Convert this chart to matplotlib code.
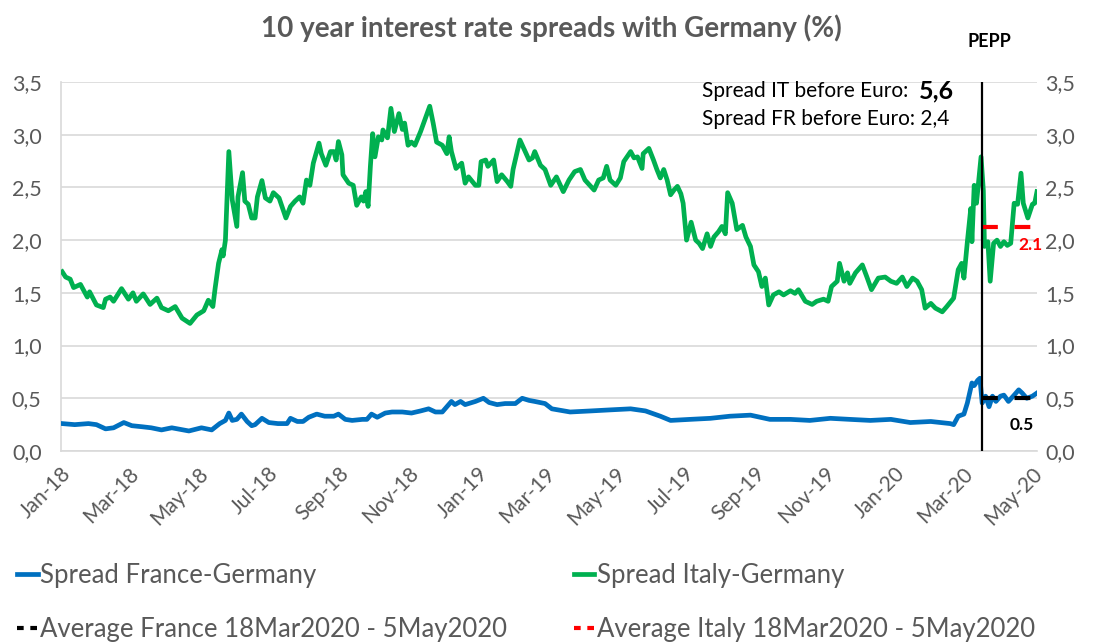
import numpy as np
import pandas as pd
import matplotlib
matplotlib.use('Agg')
import matplotlib.pyplot as plt
import matplotlib.dates as mdates
from matplotlib.lines import Line2D

plt.rcParams['font.family'] = ['Lato', 'DejaVu Sans']

# data: days since 1 Jan 2018 and spread in %
start = pd.Timestamp('2018-01-01')

it_days = [1, 4, 8, 11, 17, 23, 25, 31, 37, 39, 43, 46, 53, 59, 63, 66, 72, 78, 84, 88,
           94, 100, 106, 113, 119, 125, 129, 133, 135, 138, 141, 142, 144, 147, 150, 154, 155, 159, 161, 164,
           167, 170, 172, 176, 179, 183, 186, 191, 197, 201, 205, 209, 212, 215, 218, 221, 226, 228, 232, 236,
           239, 241, 243, 246, 247, 252, 256, 259, 263, 265, 267, 269, 271, 273, 275, 278, 281, 282, 286, 289,
           292, 296, 299, 301, 304, 307, 310, 315, 318, 323, 326, 329, 334, 338, 340, 342, 346, 351, 354, 357,
           363, 366, 368, 372, 374, 379, 382, 386, 391, 394, 396, 402, 410, 413, 415, 420, 424, 429, 434, 440,
           445, 450, 455, 459, 467, 471, 475, 478, 481, 486, 490, 493, 499, 502, 505, 509, 510, 515, 519, 522,
           525, 528, 531, 534, 537, 540, 543, 545, 548, 552, 556, 559, 562, 566, 569, 572, 576, 579, 582, 584,
           588, 592, 597, 600, 604, 607, 611, 614, 617, 620, 624, 629, 633, 639, 643, 646, 652, 658, 662, 668,
           672, 675, 680, 682, 686, 689, 691, 696, 702, 706, 710, 716, 722, 727, 732, 737, 741, 746, 750, 754,
           757, 762, 766, 772, 776, 782, 786, 789, 791, 794, 797, 798, 800, 802, 806, 808, 809, 812, 814, 817,
           820, 823, 826, 829, 832, 835, 838, 841, 843, 847, 851, 853, 855]
it_vals = [1.70, 1.65, 1.63, 1.55, 1.58, 1.46, 1.51, 1.385, 1.36, 1.44, 1.46, 1.42, 1.54, 1.44, 1.50, 1.42, 1.49, 1.39, 1.45, 1.36,
           1.33, 1.37, 1.26, 1.21, 1.29, 1.33, 1.43, 1.37, 1.545, 1.78, 1.91, 1.85, 2.00, 2.84, 2.38, 2.13, 2.41, 2.64, 2.37, 2.34,
           2.21, 2.21, 2.41, 2.565, 2.40, 2.37, 2.45, 2.40, 2.21, 2.32, 2.37, 2.41, 2.35, 2.57, 2.52, 2.73, 2.92, 2.82, 2.71, 2.84,
           2.84, 2.76, 2.935, 2.81, 2.62, 2.54, 2.52, 2.33, 2.41, 2.37, 2.46, 2.32, 2.70, 3.01, 2.79, 2.98, 2.95, 3.045, 2.97, 3.25,
           3.03, 3.20, 3.05, 3.11, 2.90, 2.93, 2.90, 3.03, 3.12, 3.27, 3.11, 2.93, 2.90, 2.82, 2.98, 2.84, 2.68, 2.73, 2.54, 2.60,
           2.52, 2.52, 2.745, 2.76, 2.70, 2.76, 2.555, 2.62, 2.555, 2.51, 2.67, 2.95, 2.76, 2.78, 2.84, 2.71, 2.67, 2.52, 2.60, 2.46,
           2.57, 2.65, 2.67, 2.57, 2.475, 2.57, 2.59, 2.70, 2.57, 2.52, 2.59, 2.745, 2.84, 2.78, 2.79, 2.68, 2.82, 2.87, 2.76, 2.67,
           2.59, 2.67, 2.57, 2.43, 2.475, 2.51, 2.44, 2.35, 2.00, 2.17, 2.00, 1.97, 1.92, 2.06, 1.94, 2.03, 2.08, 2.13, 2.06, 2.45,
           2.35, 2.10, 2.14, 2.03, 1.94, 1.765, 1.70, 1.56, 1.64, 1.385, 1.48, 1.51, 1.48, 1.52, 1.495, 1.53, 1.42, 1.39, 1.42, 1.44,
           1.42, 1.56, 1.61, 1.78, 1.61, 1.69, 1.59, 1.69, 1.765, 1.65, 1.53, 1.64, 1.65, 1.61, 1.59, 1.65, 1.56, 1.64, 1.61, 1.53,
           1.355, 1.40, 1.355, 1.32, 1.37, 1.45, 1.72, 1.78, 1.64, 1.985, 2.30, 1.985, 2.52, 2.35, 2.79, 2.47, 1.94, 1.985, 1.61, 1.97,
           2.00, 1.94, 1.985, 1.95, 1.97, 2.35, 2.34, 2.635, 2.35, 2.21, 2.34, 2.35, 2.46]

fr_days = [1, 12, 24, 31, 39, 46, 55, 62, 71, 79, 88, 97, 112, 123, 132, 139, 144, 147, 150, 154,
           158, 163, 167, 170, 176, 182, 190, 198, 201, 207, 212, 217, 224, 231, 239, 243, 249, 255, 264, 268,
           272, 277, 284, 290, 299, 307, 315, 322, 328, 334, 342, 345, 350, 354, 363, 370, 375, 382, 389, 398,
           404, 410, 415, 424, 430, 446, 464, 481, 499, 512, 525, 534, 551, 569, 586, 604, 621, 639, 656, 674,
           691, 709, 727, 744, 762, 779, 782, 786, 791, 794, 798, 800, 803, 805, 807, 810, 813, 816, 819, 823,
           826, 830, 835, 839, 842, 846, 851, 855]
fr_vals = [0.26, 0.25, 0.26, 0.25, 0.21, 0.22, 0.27, 0.24, 0.23, 0.22, 0.20, 0.22, 0.19, 0.22, 0.20, 0.26, 0.29, 0.36, 0.29, 0.30,
           0.35, 0.28, 0.24, 0.25, 0.31, 0.27, 0.26, 0.26, 0.31, 0.28, 0.28, 0.32, 0.35, 0.33, 0.33, 0.35, 0.30, 0.29, 0.30, 0.30,
           0.35, 0.32, 0.36, 0.37, 0.37, 0.36, 0.38, 0.40, 0.37, 0.37, 0.47, 0.44, 0.47, 0.44, 0.47, 0.50, 0.46, 0.44, 0.45, 0.45,
           0.50, 0.48, 0.47, 0.45, 0.40, 0.37, 0.38, 0.39, 0.40, 0.38, 0.33, 0.29, 0.30, 0.31, 0.33, 0.34, 0.30, 0.30, 0.29, 0.31,
           0.30, 0.29, 0.30, 0.27, 0.28, 0.26, 0.25, 0.33, 0.35, 0.455, 0.645, 0.62, 0.67, 0.69, 0.455, 0.52, 0.42, 0.52, 0.47, 0.52,
           0.53, 0.47, 0.53, 0.58, 0.55, 0.50, 0.52, 0.55]

pepp_date = pd.Timestamp('2020-03-18')
avg_end = pd.Timestamp('2020-05-05')
avg_fr = 0.50
avg_it = 2.12

it_dates = start + pd.to_timedelta(it_days, unit='D')
fr_dates = start + pd.to_timedelta(fr_days, unit='D')

grey = '#595959'
green = '#00B050'
blue = '#0070C0'

fig = plt.figure(figsize=(11.02, 6.43), dpi=100)
ax = fig.add_axes([0.0554, 0.2986, 0.8856, 0.5739])

ax.plot(fr_dates, fr_vals, color=blue, lw=3.4, solid_joinstyle='round', zorder=3)
ax.plot(it_dates, it_vals, color=green, lw=3.4, solid_joinstyle='round', zorder=3)
ax.plot([pepp_date, avg_end], [avg_fr, avg_fr], color='black', lw=3, dashes=(3.8, 4.0), zorder=4)
ax.plot([pepp_date, avg_end], [avg_it, avg_it], color='red', lw=3, dashes=(3.8, 4.0), zorder=4)
ax.axvline(pepp_date, color='black', lw=1.6, zorder=5)

ax.set_xlim(start, avg_end)
ax.set_ylim(0, 3.5)
yt = np.arange(0, 3.51, 0.5)
ax.set_yticks(yt)
ax.set_yticklabels([f'{v:.1f}'.replace('.', ',') for v in yt])
ax.grid(axis='y', color='#D9D9D9', lw=1.2)
ax.set_axisbelow(True)
for s in ['top', 'right']:
    ax.spines[s].set_visible(False)
for s in ['left', 'bottom']:
    ax.spines[s].set_color('#D9D9D9')
    ax.spines[s].set_linewidth(1.2)

ax.xaxis.set_major_locator(mdates.MonthLocator(bymonth=[1, 3, 5, 7, 9, 11]))
ax.xaxis.set_major_formatter(mdates.DateFormatter('%b-%y'))
ax.tick_params(axis='x', length=0, pad=9, labelsize=15, labelcolor=grey)
ax.tick_params(axis='y', length=0, pad=14, labelsize=15.5, labelcolor=grey)
plt.setp(ax.get_xticklabels(), rotation=45, ha='right', rotation_mode='anchor')

ax2 = ax.twinx()
ax2.set_ylim(0, 3.5)
ax2.set_yticks(yt)
ax2.set_yticklabels([f'{v:.1f}'.replace('.', ',') for v in yt])
ax2.tick_params(axis='y', length=0, pad=6, labelsize=15.5, labelcolor=grey)
for s in ax2.spines.values():
    s.set_visible(False)

fig.text(0.5, 0.956, '10 year interest rate spreads with Germany (%)', ha='center', va='center',
         fontsize=20, fontweight='bold', color=grey)
ax.text(pepp_date + pd.Timedelta(days=6), 3.88, 'PEPP', ha='center', va='center',
        fontsize=13, fontweight='bold', color='black', clip_on=False)

t1 = ax.text(0.657, 0.975, 'Spread IT before Euro:  ', transform=ax.transAxes, ha='left', va='center',
             fontsize=15, color='black')
fig.canvas.draw()
bb = t1.get_window_extent(fig.canvas.get_renderer())
x_end = ax.transAxes.inverted().transform((bb.x1, 0))[0]
ax.text(x_end, 0.975, '5,6', transform=ax.transAxes, ha='left', va='center',
        fontsize=18, fontweight='bold', color='black')
ax.text(0.657, 0.9, 'Spread FR before Euro: 2,4', transform=ax.transAxes, ha='left', va='center',
        fontsize=15, color='black')

ax.text(start + pd.Timedelta(days=849), avg_it - 0.17, '2.1', ha='center', va='center', fontsize=12.5,
        fontweight='bold', color='red', clip_on=False)
ax.text(start + pd.Timedelta(days=842), avg_fr - 0.25, '0.5', ha='center', va='center', fontsize=12.5,
        fontweight='bold', color='black')

handles = [Line2D([], [], color=blue, lw=3.4),
           Line2D([], [], color='black', lw=3, dashes=(1.6, 1.6)),
           Line2D([], [], color=green, lw=3.4),
           Line2D([], [], color='red', lw=3, dashes=(1.6, 1.6))]
labels = ['Spread France-Germany', 'Average France 18Mar2020 - 5May2020',
          'Spread Italy-Germany', 'Average Italy 18Mar2020 - 5May2020']
fig.legend(handles, labels, ncol=2, loc='upper left', bbox_to_anchor=(0.0154, 0.1244), frameon=False,
           fontsize=18.5, labelcolor=grey, handlelength=0.8, handletextpad=0.1, borderpad=0,
           borderaxespad=0, columnspacing=2.6, labelspacing=1.12)

fig.savefig('out.png', dpi=100)
